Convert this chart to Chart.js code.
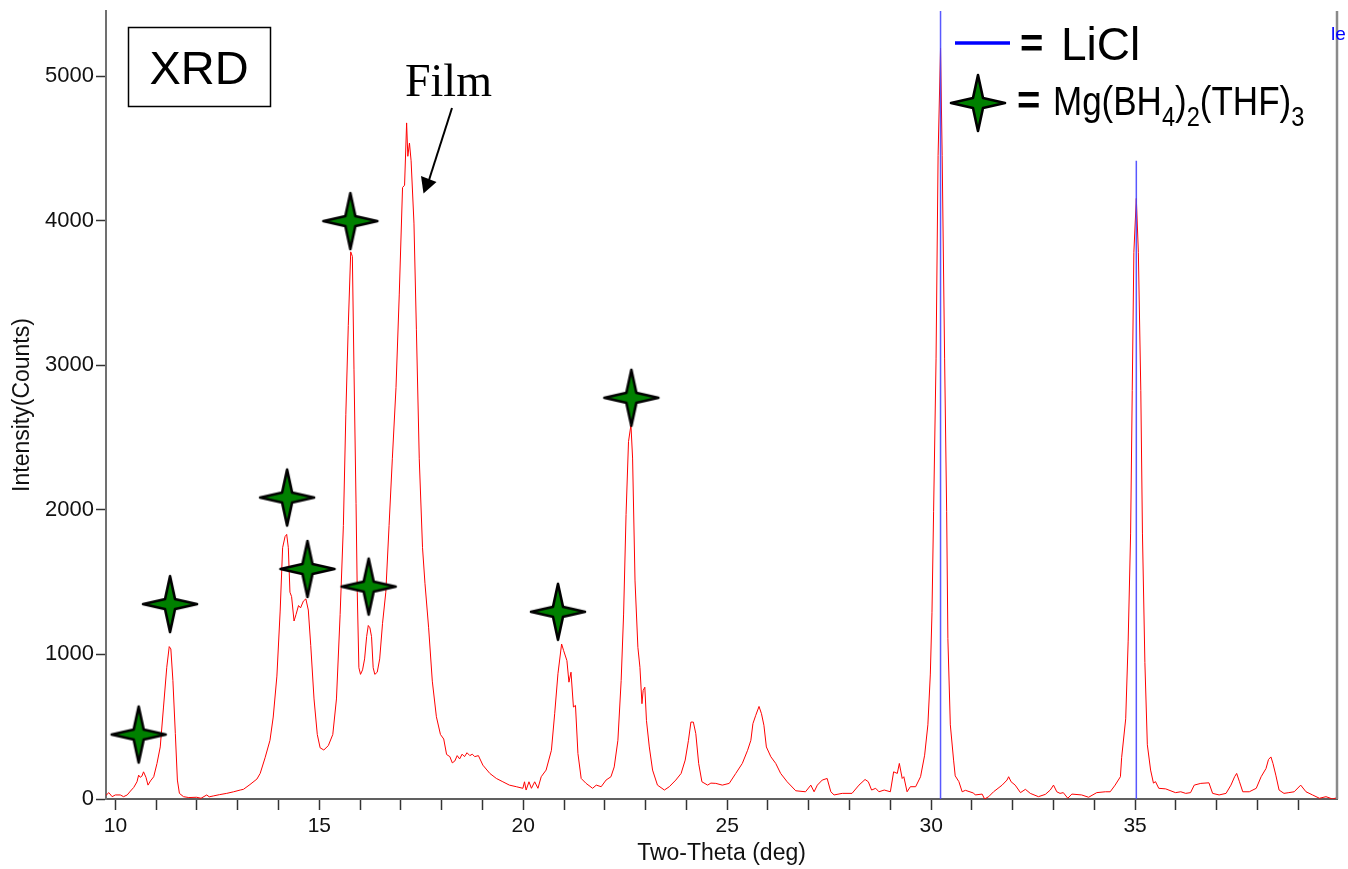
<!DOCTYPE html>
<html>
<head>
<meta charset="utf-8">
<title>XRD</title>
<script src="https://cdn.jsdelivr.net/npm/chart.js@4.4.0/dist/chart.umd.min.js"></script>
<style>
  body { margin: 0; background: #fff; }
  #wrap { width: 1348px; height: 869px; }
</style>
</head>
<body>
<div id="wrap"><canvas id="xrdChart" width="1348" height="869"></canvas></div>
<script>
// measured pattern (two-theta in deg, intensity in counts)
const twoTheta = [
  9.77, 9.84, 9.92, 10.00, 10.12, 10.20, 10.29, 10.37, 10.45, 10.53, 10.57, 10.61, 10.65, 10.69, 10.75, 10.80,
  10.86, 10.94, 11.02, 11.10, 11.18, 11.26, 11.32, 11.36, 11.41, 11.47, 11.52, 11.57, 11.67, 11.80, 11.99, 12.10,
  12.24, 12.30, 12.40, 12.55, 12.73, 12.90, 13.06, 13.14, 13.30, 13.47, 13.55, 13.67, 13.79, 13.87, 13.96, 14.04,
  14.10, 14.16, 14.20, 14.24, 14.28, 14.32, 14.38, 14.43, 14.49, 14.54, 14.61, 14.67, 14.73, 14.79, 14.87, 14.95,
  15.02, 15.11, 15.22, 15.33, 15.42, 15.51, 15.59, 15.65, 15.71, 15.77, 15.81, 15.85, 15.90, 15.93, 15.97, 16.01,
  16.06, 16.11, 16.16, 16.20, 16.24, 16.28, 16.32, 16.36, 16.42, 16.48, 16.55, 16.63, 16.71, 16.79, 16.88, 16.96,
  17.04, 17.09, 17.14, 17.17, 17.21, 17.25, 17.32, 17.38, 17.45, 17.53, 17.59, 17.68, 17.77, 17.87, 17.97, 18.05,
  18.12, 18.20, 18.26, 18.32, 18.38, 18.44, 18.50, 18.56, 18.62, 18.69, 18.75, 18.81, 18.90, 19.01, 19.18, 19.34,
  19.50, 19.66, 19.83, 19.99, 20.03, 20.07, 20.14, 20.20, 20.28, 20.36, 20.44, 20.56, 20.69, 20.77, 20.85, 20.94,
  20.99, 21.07, 21.12, 21.17, 21.23, 21.28, 21.34, 21.42, 21.54, 21.70, 21.79, 21.91, 22.03, 22.15, 22.23, 22.32,
  22.40, 22.46, 22.52, 22.58, 22.64, 22.68, 22.74, 22.81, 22.86, 22.91, 22.94, 22.98, 23.02, 23.09, 23.17, 23.29,
  23.46, 23.58, 23.74, 23.87, 23.97, 24.05, 24.11, 24.17, 24.23, 24.30, 24.38, 24.52, 24.60, 24.72, 24.88, 25.05,
  25.21, 25.37, 25.50, 25.58, 25.63, 25.70, 25.78, 25.84, 25.90, 25.96, 26.07, 26.19, 26.31, 26.47, 26.68, 26.92,
  27.05, 27.13, 27.21, 27.33, 27.45, 27.54, 27.62, 27.82, 28.06, 28.23, 28.38, 28.46, 28.54, 28.64, 28.72, 28.85,
  29.00, 29.08, 29.17, 29.22, 29.29, 29.33, 29.41, 29.49, 29.62, 29.74, 29.84, 29.92, 29.98, 30.02, 30.06, 30.12,
  30.17, 30.23, 30.27, 30.33, 30.38, 30.41, 30.47, 30.55, 30.59, 30.68, 30.76, 30.84, 31.04, 31.08, 31.25, 31.31,
  31.41, 31.53, 31.74, 31.86, 31.90, 31.96, 32.06, 32.19, 32.31, 32.43, 32.63, 32.80, 32.92, 33.00, 33.08, 33.16,
  33.24, 33.35, 33.45, 33.69, 33.86, 34.06, 34.27, 34.39, 34.51, 34.64, 34.67, 34.77, 34.83, 34.89, 34.93, 34.97,
  35.03, 35.08, 35.14, 35.18, 35.24, 35.30, 35.38, 35.45, 35.50, 35.58, 35.75, 35.99, 36.12, 36.24, 36.36, 36.45,
  36.61, 36.81, 36.90, 37.06, 37.23, 37.35, 37.44, 37.49, 37.56, 37.64, 37.80, 37.97, 38.09, 38.21, 38.27, 38.33,
  38.38, 38.45, 38.53, 38.65, 38.77, 38.90, 39.06, 39.19, 39.35, 39.52, 39.68, 39.84, 39.95
];
const counts = [
  25, 44, 16, 28, 28, 16, 28, 55, 80, 119, 165, 150, 158, 188, 150, 96,
  125, 154, 246, 360, 636, 911, 1054, 1038, 820, 452, 131, 39, 16, 10, 12, 5,
  28, 15, 21, 30, 39, 50, 62, 67, 100, 138, 177, 285, 406, 567, 850, 1300,
  1738, 1815, 1830, 1738, 1430, 1400, 1231, 1277, 1338, 1322, 1369, 1384, 1307, 1061, 692, 446,
  354, 339, 369, 446, 692, 1277, 1891, 2661, 3276, 3784, 3753, 2968, 2045, 1430, 908, 862,
  893, 969, 1123, 1200, 1184, 1123, 908, 862, 877, 969, 1215, 1430, 1891, 2353, 2846, 3492,
  4229, 4245, 4676, 4445, 4537, 4414, 3983, 3245, 2353, 1738, 1492, 1184, 815, 569, 446, 415,
  308, 293, 250, 262, 300, 277, 310, 293, 320, 300, 310, 293, 300, 234, 177, 142,
  119, 96, 85, 74, 119, 62, 119, 74, 119, 74, 154, 200, 337, 590, 866, 1072,
  1026, 957, 808, 877, 636, 647, 315, 142, 108, 74, 96, 85, 131, 154, 222, 406,
  820, 1279, 1968, 2472, 2587, 2358, 1508, 1049, 911, 659, 751, 773, 544, 360, 200, 96,
  62, 85, 131, 177, 269, 406, 532, 532, 452, 246, 119, 96, 110, 108, 96, 108,
  177, 246, 337, 406, 521, 579, 640, 590, 510, 360, 292, 246, 177, 119, 57, 50,
  96, 50, 96, 131, 142, 50, 28, 39, 39, 96, 135, 119, 62, 74, 50, 62,
  50, 188, 177, 246, 142, 154, 50, 85, 85, 154, 303, 513, 864, 1288, 1990, 3044,
  4449, 5193, 4449, 3044, 1990, 1109, 513, 269, 160, 120, 50, 60, 41, 28, 34, 0,
  16, 50, 96, 131, 154, 119, 96, 44, 67, 39, 16, 32, 62, 96, 50, 39,
  44, 5, 34, 28, 12, 44, 50, 50, 96, 154, 286, 555, 1092, 1839, 2824, 3781,
  4154, 3781, 2824, 1839, 944, 375, 200, 110, 120, 74, 70, 44, 50, 39, 44, 96,
  108, 112, 39, 28, 39, 96, 154, 177, 119, 50, 50, 74, 154, 211, 273, 291,
  246, 165, 62, 39, 44, 50, 96, 50, 28, 5, 16, 0, 9
];

// Mg(BH4)2(THF)3 reflections marked with stars
const starTheta = [10.57, 11.34, 14.21, 14.71, 15.76, 16.21, 20.85, 22.65];
const starCounts = [446, 1348, 2085, 1591, 3997, 1469, 1295, 2775];

// LiCl reference lines
const liclTheta = [30.23, 35.03];
const liclCounts = [5450, 4415];

const xTickValues = [10, 11, 12, 13, 14, 15, 16, 17, 18, 19, 20, 21, 22, 23, 24, 25, 26, 27, 28, 29, 30, 31, 32, 33, 34, 35, 36, 37, 38, 39];
const xLabelValues = [10, 15, 20, 25, 30, 35];
const yTickValues = [0, 1000, 2000, 3000, 4000, 5000];

const SANS = "'Liberation Sans', Arial, sans-serif";
const SERIF = "'Liberation Serif', 'Times New Roman', serif";

function makeStar(w, h) {
    const c = document.createElement('canvas');
    c.width = w + 6;
    c.height = h + 6;
    const g = c.getContext('2d');
    const cx = c.width / 2, cy = c.height / 2;
    const rx = w / 2, ry = h / 2, k = 5;
    g.beginPath();
    g.moveTo(cx, cy - ry);
    g.lineTo(cx + k, cy - k);
    g.lineTo(cx + rx, cy);
    g.lineTo(cx + k, cy + k);
    g.lineTo(cx, cy + ry);
    g.lineTo(cx - k, cy + k);
    g.lineTo(cx - rx, cy);
    g.lineTo(cx - k, cy - k);
    g.closePath();
    g.fillStyle = '#008000';
    g.fill();
    g.lineWidth = 2.6;
    g.lineJoin = 'round';
    g.strokeStyle = '#000';
    g.stroke();
    return c;
}

const starImg = makeStar(54, 56);

const annotations = {
    id: 'annotations',
    afterDraw(chart) {
        const ctx = chart.ctx;
        const area = chart.chartArea;
        ctx.save();

        // right frame line
        ctx.strokeStyle = '#8a8a8a';
        ctx.lineWidth = 2.5;
        ctx.beginPath();
        ctx.moveTo(area.right, area.top);
        ctx.lineTo(area.right, area.bottom);
        ctx.stroke();

        // XRD box
        ctx.strokeStyle = '#000';
        ctx.lineWidth = 1.5;
        ctx.strokeRect(128.5, 27.5, 142, 79);
        ctx.fillStyle = '#000';
        ctx.font = '47px ' + SANS;
        ctx.textAlign = 'center';
        ctx.textBaseline = 'alphabetic';
        ctx.fillText('XRD', 199, 84);

        // Film label + arrow
        ctx.textAlign = 'left';
        ctx.font = '46px ' + SERIF;
        ctx.fillText('Film', 405, 96);
        ctx.lineWidth = 2;
        ctx.beginPath();
        ctx.moveTo(452, 108);
        ctx.lineTo(429, 180);
        ctx.stroke();
        ctx.beginPath();
        ctx.moveTo(423.5, 193.5);
        ctx.lineTo(421, 176);
        ctx.lineTo(436.5, 182);
        ctx.closePath();
        ctx.fill();

        // legend: LiCl
        ctx.strokeStyle = '#0000ff';
        ctx.lineWidth = 3.5;
        ctx.beginPath();
        ctx.moveTo(955, 43);
        ctx.lineTo(1010, 43);
        ctx.stroke();
        ctx.fillStyle = '#000';
        ctx.font = 'bold 40px ' + SANS;
        ctx.fillText('=', 1020, 57);
        ctx.font = '46px ' + SANS;
        ctx.fillText('LiCl', 1061, 60);

        // legend: Mg(BH4)2(THF)3
        ctx.drawImage(starImg, 978 - starImg.width / 2, 103 - starImg.height / 2);
        ctx.font = 'bold 40px ' + SANS;
        ctx.fillText('=', 1017, 114);
        ctx.save();
        ctx.translate(1053, 115);
        ctx.scale(0.875, 1);
        const parts = [['Mg(BH', 0], ['4', 1], [')', 0], ['2', 1], ['(THF)', 0], ['3', 1]];
        let px = 0;
        parts.forEach(([txt, sub]) => {
            ctx.font = (sub ? '27px ' : '40px ') + SANS;
            ctx.fillText(txt, px, sub ? 11 : 0);
            px += ctx.measureText(txt).width;
        });
        ctx.restore();

        // clipped stray label at the top right
        ctx.fillStyle = '#0000ff';
        ctx.font = '19px ' + SANS;
        ctx.fillText('le', 1331, 40);

        ctx.restore();
    }
};

const ctx = document.getElementById('xrdChart').getContext('2d');

const liclSets = liclTheta.map((t, i) => ({
    label: 'LiCl',
    data: [{ x: t, y: 0 }, { x: t, y: liclCounts[i] }],
    showLine: true,
    borderColor: 'rgba(70, 70, 255, 0.9)',
    borderWidth: 1.5,
    pointRadius: 0,
    order: 1
}));

new Chart(ctx, {
    type: 'scatter',
    data: {
        datasets: [
            {
                label: 'Mg(BH4)2(THF)3',
                data: starTheta.map((t, i) => ({ x: t, y: starCounts[i] })),
                pointStyle: starImg,
                pointRadius: 10,
                showLine: false,
                order: 0
            },
            ...liclSets,
            {
                label: 'Film',
                data: twoTheta.map((t, i) => ({ x: t, y: counts[i] })),
                showLine: true,
                borderColor: '#ff0000',
                borderWidth: 1,
                pointRadius: 0,
                tension: 0,
                order: 2
            }
        ]
    },
    options: {
        responsive: false,
        animation: false,
        layout: { padding: { top: 8, right: 10, left: 0, bottom: 0 } },
        plugins: {
            legend: { display: false },
            tooltip: { enabled: false }
        },
        scales: {
            x: {
                type: 'linear',
                min: 9.77,
                max: 39.95,
                afterBuildTicks: scale => { scale.ticks = xTickValues.map(v => ({ value: v })); },
                afterFit: scale => {
                    scale.height = 70;
                    scale.paddingLeft = 0;
                    scale.paddingRight = 0;
                },
                grid: { drawOnChartArea: false, drawTicks: true, tickLength: 11, tickColor: '#333', tickWidth: 1.5 },
                border: { color: '#606060', width: 2 },
                ticks: {
                    autoSkip: false,
                    maxRotation: 0,
                    padding: 4,
                    color: '#111',
                    font: { family: SANS, size: 21 },
                    callback: v => xLabelValues.includes(v) ? String(v) : ''
                },
                title: {
                    display: true,
                    text: 'Two-Theta (deg)',
                    color: '#111',
                    font: { family: SANS, size: 23 },
                    padding: { top: 0, bottom: 2 }
                }
            },
            y: {
                type: 'linear',
                min: 0,
                max: 5450,
                afterBuildTicks: scale => { scale.ticks = yTickValues.map(v => ({ value: v })); },
                afterFit: scale => {
                    scale.width = 106;
                    scale.paddingTop = 0;
                    scale.paddingBottom = 0;
                },
                grid: { drawOnChartArea: false, drawTicks: true, tickLength: 10, tickColor: '#333', tickWidth: 1.5 },
                border: { color: '#707070', width: 2 },
                ticks: {
                    padding: 2,
                    color: '#111',
                    font: { family: SANS, size: 22 },
                    callback: v => String(v)
                },
                title: {
                    display: true,
                    text: 'Intensity(Counts)',
                    color: '#111',
                    font: { family: SANS, size: 23 },
                    padding: { top: 9, bottom: 0 }
                }
            }
        }
    },
    plugins: [annotations]
});
</script>
</body>
</html>
